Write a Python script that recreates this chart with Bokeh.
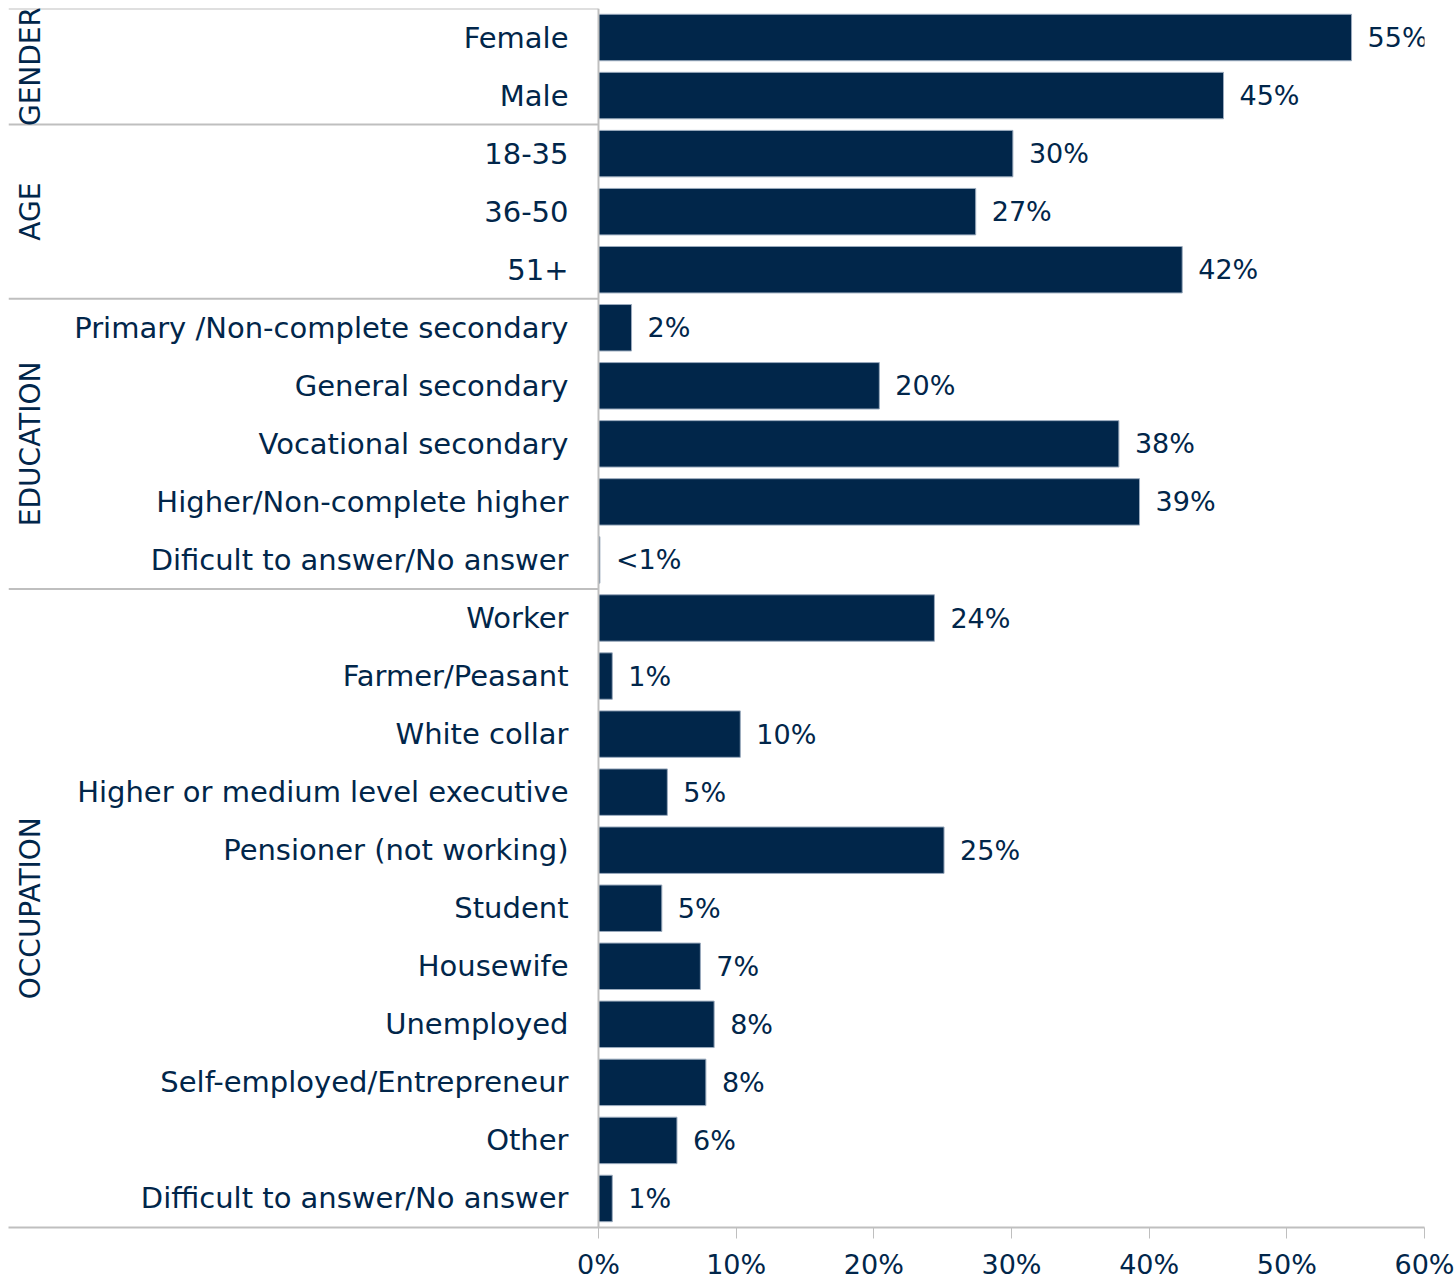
import math
from bokeh.plotting import figure
from bokeh.models import Range1d, FixedTicker, Span, ColumnDataSource
from bokeh.core.properties import value
from bokeh.embed import file_html
from bokeh.resources import INLINE

groups = ["GENDER", "AGE", "EDUCATION", "OCCUPATION"]
group_sizes = [2, 3, 5, 11]
categories = [
    "Female", "Male",
    "18-35", "36-50", "51+",
    "Primary /Non-complete secondary", "General secondary", "Vocational secondary",
    "Higher/Non-complete higher", "Dificult to answer/No answer",
    "Worker", "Farmer/Peasant", "White collar", "Higher or medium level executive",
    "Pensioner (not working)", "Student", "Housewife", "Unemployed",
    "Self-employed/Entrepreneur", "Other", "Difficult to answer/No answer",
]
values = [54.7, 45.4, 30.1, 27.4, 42.4, 2.4, 20.4, 37.8, 39.3, 0.1,
          24.4, 1.0, 10.3, 5.0, 25.1, 4.6, 7.4, 8.4, 7.8, 5.7, 1.0]
value_labels = ["55%", "45%", "30%", "27%", "42%", "2%", "20%", "38%", "39%", "<1%",
                "24%", "1%", "10%", "5%", "25%", "5%", "7%", "8%", "8%", "6%", "1%"]
ticks = [0, 10, 20, 30, 40, 50, 60]
tick_labels = ["0%", "10%", "20%", "30%", "40%", "50%", "60%"]

NAVY = "#01264A"
GRAY = "#BFBFBF"
FONT = "DejaVu Sans"

n = len(categories)
ys = [n - 1 - i for i in range(n)]

src = ColumnDataSource(dict(y=ys, v=values, cat=categories, lab=value_labels))

W, H = 1456, 1283
left_px, zero_px, right_px = 8, 598, 1424
top_px, bottom_px = 8, 1227
x_max = 60.0
px_per = (right_px - zero_px) / x_max
x_min = -(zero_px - left_px) / px_per

p = figure(width=W, height=H, output_backend="svg", toolbar_location=None,
           x_range=Range1d(x_min, x_max), y_range=Range1d(-0.5, n - 0.5),
           min_border_left=left_px, min_border_right=W - right_px,
           min_border_top=top_px, min_border_bottom=H - bottom_px)
p.outline_line_color = None
p.xgrid.visible = False
p.ygrid.visible = False
p.yaxis.visible = False
p.background_fill_color = "white"
p.border_fill_color = "white"

# y axis line at 0
p.add_layout(Span(location=0, dimension="height", line_color=GRAY, line_width=2))

# group separators and group label positions
start = 0
gx, gy, gt = [], [], []
by = []
for g, k in zip(groups, group_sizes):
    by.append(n - start - 0.5)
    gx.append(x_min + 22 / px_per)
    gy.append(n - 1 - (start + (k - 1) / 2))
    gt.append(g)
    start += k
p.segment(x0=[x_min] * len(by), x1=[0] * len(by), y0=by, y1=by,
          line_color=GRAY, line_width=2)

p.hbar(y="y", right="v", left=0, height=0.8, source=src,
       fill_color=NAVY, line_color="#9AAABD", line_width=1)

p.text(x=-30 / px_per, y="y", text="cat", source=src, text_align="right",
       text_baseline="middle", text_font=value(FONT), text_font_size="29px",
       text_color=NAVY)
p.text(x="v", y="y", text="lab", source=src, x_offset=16, text_align="left",
       text_baseline="middle", text_font=value(FONT), text_font_size="27px",
       text_color=NAVY)
p.text(x=gx, y=gy, text=gt, angle=math.pi / 2, text_align="center",
       text_baseline="middle", text_font=value(FONT), text_font_size="28px",
       text_color=NAVY)

ax = p.xaxis[0]
ax.ticker = FixedTicker(ticks=ticks)
ax.major_label_overrides = {t: l for t, l in zip(ticks, tick_labels)}
ax.minor_tick_line_color = None
ax.major_tick_in = 0
ax.major_tick_out = 11
ax.major_tick_line_color = GRAY
ax.major_tick_line_width = 1
ax.axis_line_color = GRAY
ax.axis_line_width = 2
ax.major_label_text_font = FONT
ax.major_label_text_font_size = "27px"
ax.major_label_text_color = NAVY
ax.major_label_standoff = 10

open("out.html", "w").write(file_html(p, INLINE))
